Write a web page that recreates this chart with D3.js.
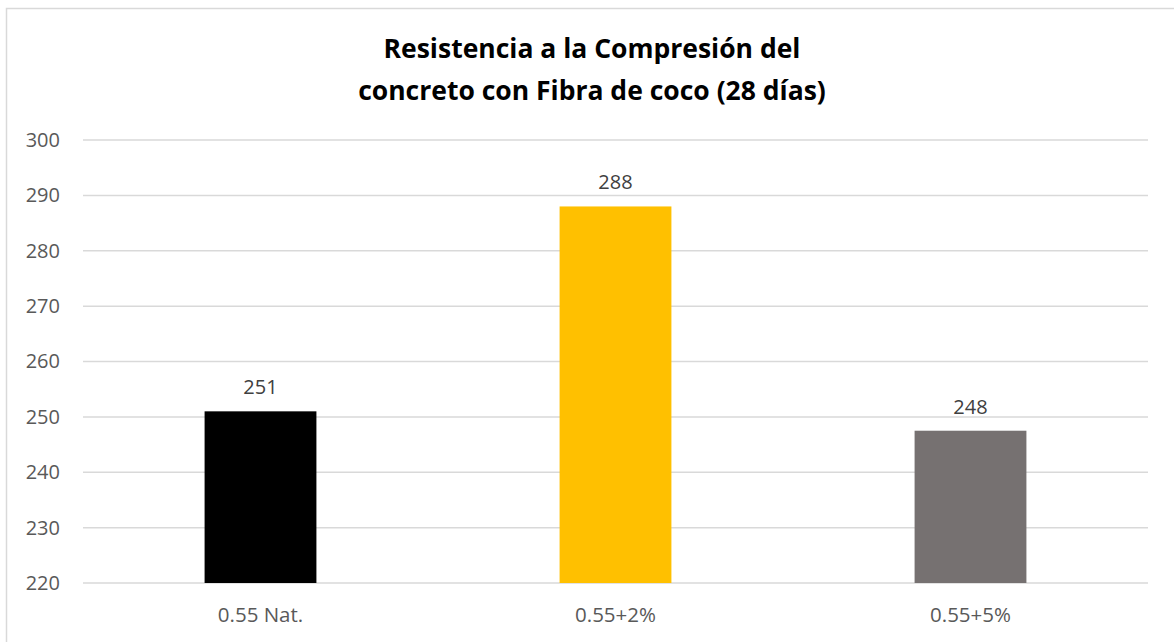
<!DOCTYPE html>
<html>
<head>
<meta charset="utf-8">
<script src="https://cdn.jsdelivr.net/npm/d3@7"></script>
<style>
  html, body { margin: 0; padding: 0; background: #ffffff; }
  svg { display: block; }
</style>
</head>
<body>
<svg id="chart" width="1174" height="642"></svg>
<script>
// Compressive strength of concrete with coconut fibre at 28 days
const categories = ["0.55 Nat.", "0.55+2%", "0.55+5%"];
const strengths = [251, 288, 247.5];
const barColors = ["#000000", "#FFC000", "#767171"];
const yTicks = [220, 230, 240, 250, 260, 270, 280, 290, 300];
const titleLines = ["Resistencia a la Compresión del", "concreto con Fibra de coco (28 días)"];

const font = "'Open Sans', sans-serif";
const svg = d3.select("#chart");
const W = 1174, H = 642;
const plot = { left: 83, right: 1148, top: 140, bottom: 583 };

// outer chart border
svg.append("rect")
  .attr("x", 6.5).attr("y", 8.5)
  .attr("width", W + 10).attr("height", H + 10)
  .attr("fill", "#ffffff")
  .attr("stroke", "#d9d9d9").attr("stroke-width", 1.5);

const x = d3.scaleBand()
  .domain(categories)
  .range([plot.left, plot.right])
  .paddingInner(0.685).paddingOuter(0.3425);

const y = d3.scaleLinear()
  .domain([220, 300])
  .range([plot.bottom, plot.top]);

// horizontal gridlines
svg.append("g")
  .selectAll("line")
  .data(yTicks)
  .join("line")
  .attr("x1", plot.left).attr("x2", plot.right)
  .attr("y1", d => y(d)).attr("y2", d => y(d))
  .attr("stroke", "#d9d9d9").attr("stroke-width", 1.5);

// y axis labels
const yAxis = d3.axisLeft(y).tickValues(yTicks).tickSize(0).tickPadding(0);
svg.append("g")
  .attr("transform", `translate(${plot.left - 23},0)`)
  .call(yAxis)
  .call(g => g.select(".domain").remove())
  .call(g => g.selectAll("text")
    .attr("font-family", font).attr("font-size", 20).attr("fill", "#595959"));

// x axis labels
const xAxis = d3.axisBottom(x).tickSize(0).tickPadding(0);
svg.append("g")
  .attr("transform", `translate(0,${plot.bottom + 24})`)
  .call(xAxis)
  .call(g => g.select(".domain").remove())
  .call(g => g.selectAll("text")
    .attr("font-family", font).attr("font-size", 20.5).attr("fill", "#595959"));

// bars
svg.append("g")
  .selectAll("rect")
  .data(categories)
  .join("rect")
  .attr("x", d => x(d))
  .attr("width", x.bandwidth())
  .attr("y", (d, i) => y(strengths[i]))
  .attr("height", (d, i) => y(220) - y(strengths[i]))
  .attr("fill", (d, i) => barColors[i]);

// value labels
svg.append("g")
  .selectAll("text")
  .data(categories)
  .join("text")
  .attr("x", d => x(d) + x.bandwidth() / 2)
  .attr("y", (d, i) => y(strengths[i]) - 17)
  .attr("text-anchor", "middle")
  .attr("font-family", font).attr("font-size", 20).attr("fill", "#404040")
  .text((d, i) => Math.round(strengths[i]));

// title
svg.append("g")
  .selectAll("text")
  .data(titleLines)
  .join("text")
  .attr("x", 592)
  .attr("y", (d, i) => 58 + i * 42)
  .attr("text-anchor", "middle")
  .attr("font-family", font).attr("font-size", 26.5).attr("font-weight", "bold")
  .attr("fill", "#000000")
  .text(d => d);
</script>
</body>
</html>
